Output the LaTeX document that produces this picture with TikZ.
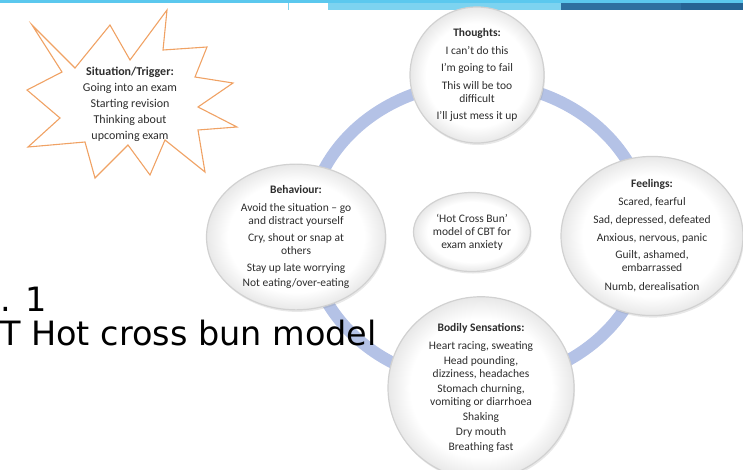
\documentclass[tikz,border=0pt]{standalone}
\usepackage{fontspec}
\setmainfont{Carlito}
\newfontfamily\captionfont{DejaVu Sans}
\usetikzlibrary{shapes.geometric, shadows, positioning}
\definecolor{ringblue}{RGB}{180,194,230}
\definecolor{bartop}{RGB}{91,200,238}
\definecolor{barlight}{RGB}{125,211,240}
\definecolor{bardark}{RGB}{46,112,160}
\definecolor{bardarker}{RGB}{38,100,148}
\definecolor{burstline}{RGB}{240,162,100}
\definecolor{bubbletext}{RGB}{45,45,45}
\pgfdeclareradialshading{bubbleshade}{\pgfpoint{0bp}{0bp}}{color(0bp)=(white); color(19bp)=(white); color(25bp)=(black!9); color(50bp)=(black!9)}

\begin{document}
\begin{tikzpicture}
        [
        x=1pt, y=-1pt,
            bubble/.style={
                ellipse,
                draw=black!18,
                line width=1.2pt,
                shading=bubbleshade,
                drop shadow={opacity=0.18, shadow xshift=1pt, shadow yshift=-2pt},
                inner sep=0pt,
                align=center,
                text=bubbletext,
                font=\fontsize{11.5}{13}\selectfont
            },
            ring/.style={
                draw=ringblue,
                line width=12pt
            },
            burst/.style={
                draw=burstline,
                line width=1.1pt,
                fill=white,
                line join=miter
            }
        ]
        \useasboundingbox (0,0) rectangle (743,469);
        \clip (0,0) rectangle (743,469);

        % top bar
        \fill[bartop] (0,0) rectangle (743,3);
        \fill[barlight] (328,3) rectangle (561,10);
        \fill[bardark] (561,3) rectangle (743,10);
        \fill[bardarker] (681,3) rectangle (743,10);
        \draw[barlight, line width=1pt] (288,3) -- (288,10);

        % the cycle
        \coordinate (ringc) at (478,233);
        \draw[ring] (ringc) ellipse [x radius=170, y radius=150];

        \node(thoughts) [bubble, minimum width=134pt, minimum height=136pt] at (477,75)
            {\textbf{Thoughts:}\\[5pt] I can’t do this\\[4pt] I’m going to fail\\[5pt] This will be too\\ difficult\\[4pt] I’ll just mess it up};
        \node(feelings) [bubble, minimum width=182pt, minimum height=147pt] at (652,236)
            {\textbf{Feelings:}\\[5pt] Scared, fearful\\[5pt] Sad, depressed, defeated\\[5pt] Anxious, nervous, panic\\[4pt] Guilt, ashamed,\\ embarrassed\\[6pt] Numb, derealisation};
        \node(bodily) [bubble, minimum width=186pt, minimum height=154pt] at (481,388)
            {\textbf{Bodily Sensations:}\\[5pt] Heart racing, sweating\\[2pt] Head pounding,\\ dizziness, headaches\\[2pt] Stomach churning,\\ vomiting or diarrhoea\\[2pt] Shaking\\[2pt] Dry mouth\\[2pt] Breathing fast};
        \node(behaviour) [bubble, minimum width=179pt, minimum height=144pt] at (296,237)
            {\textbf{Behaviour:}\\[5pt] Avoid the situation – go\\ and distract yourself\\[4pt] Cry, shout or snap at\\ others\\[4pt] Stay up late worrying\\[2pt] Not eating/over-eating};
        \node(centre) [bubble, minimum width=117pt, minimum height=79pt] at (472,232)
            {‘Hot Cross Bun’\\ model of CBT for\\ exam anxiety};

        % trigger
        \draw[burst] (32,25) -- (75,68) -- (110,25) -- (130,60) -- (167,10) -- (163,50)
            -- (207,47) -- (195,77) -- (233,83) -- (198,107) -- (237,127) -- (198,130)
            -- (205,172) -- (165,140) -- (150,175) -- (128,145) -- (95,178) -- (85,142)
            -- (28,147) -- (60,118) -- (27,90) -- (62,72) -- cycle;
        \node(trigger) [align=center, text=bubbletext, font=\fontsize{12}{16}\selectfont] at (130,104)
            {\textbf{Situation/Trigger:}\\ Going into an exam\\ Starting revision\\ Thinking about\\ upcoming exam};

        % caption
        \node(fignum) [anchor=base west, inner sep=0pt, font=\captionfont\fontsize{33.5}{40}\selectfont] at (0,311) {. 1};
        \node(caption) [anchor=base east, inner sep=0pt, font=\captionfont\fontsize{33.5}{40}\selectfont] at (377,345) {T Hot cross bun model};
    \end{tikzpicture}
\end{document}
